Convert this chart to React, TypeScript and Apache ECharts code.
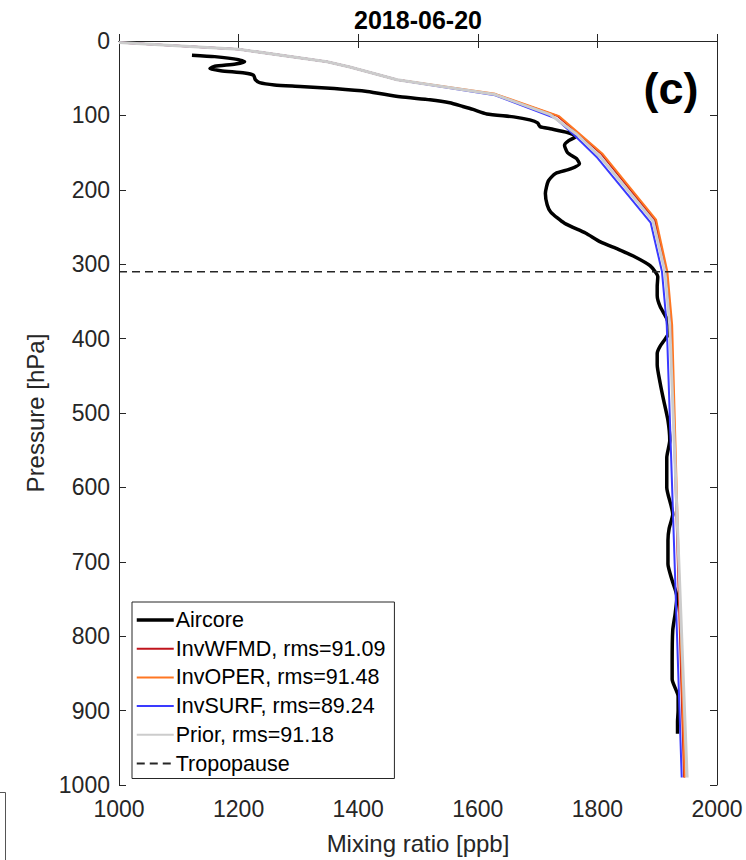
import React, { useEffect, useRef } from "react";
import * as echarts from "echarts";

// ---- Data (mixing ratio [ppb], pressure [hPa]) ----
const titleText = "2018-06-20";
const panelLabel = "(c)";
const xTicks = [1000, 1200, 1400, 1600, 1800, 2000];
const yTicks = [0, 100, 200, 300, 400, 500, 600, 700, 800, 900, 1000];
const tropopausePressure = 310;

const aircore: number[][] = [
  [1122, 19], [1160, 21], [1200, 25], [1210, 28], [1195, 31], [1160, 34], [1152, 37],
  [1170, 40], [1210, 43], [1225, 46], [1228, 52], [1235, 56], [1260, 59], [1303, 61],
  [1360, 64], [1415, 68], [1470, 75], [1520, 79], [1553, 83], [1575, 88], [1592, 92],
  [1615, 98], [1660, 102], [1687, 106], [1700, 110], [1704, 115], [1721, 118], [1750, 123],
  [1765, 128], [1752, 134], [1745, 140], [1750, 150], [1765, 158], [1770, 165], [1755, 172],
  [1730, 178], [1718, 188], [1713, 205], [1716, 220], [1722, 230], [1745, 245], [1780, 258],
  [1805, 270], [1835, 280], [1860, 289], [1888, 302], [1901, 317], [1900, 330], [1900, 342],
  [1905, 357], [1916, 373], [1920, 385], [1918, 395], [1905, 410], [1900, 420], [1900, 435],
  [1905, 460], [1910, 480], [1918, 510], [1921, 537], [1916, 560], [1916, 600], [1926, 636],
  [1920, 655], [1918, 671], [1918, 703], [1925, 725], [1933, 747], [1930, 770], [1926, 792],
  [1925, 836], [1925, 858], [1935, 881], [1935, 900], [1934, 915], [1934, 931],
];

const prior: number[][] = [
  [1000, 2], [1200, 11], [1348, 28], [1386, 35], [1465, 52], [1629, 72], [1721, 99],
  [1765, 125], [1804, 155], [1893, 242], [1913, 310], [1921, 382], [1950, 990],
];

const invWFMD: number[][] = [
  [1000, 2], [1200, 11], [1348, 28], [1386, 35], [1465, 52], [1629, 72], [1734, 101],
  [1767, 124], [1807, 152], [1896, 241], [1915, 310], [1923, 382], [1945, 990],
];

const invOPER: number[][] = [
  [1000, 2], [1200, 11], [1348, 28], [1386, 35], [1465, 52], [1629, 71], [1736, 101],
  [1769, 124], [1809, 152], [1898, 240], [1917, 310], [1925, 382], [1946, 990],
];

const invSURF: number[][] = [
  [1000, 2], [1200, 11], [1348, 28], [1386, 35], [1465, 52], [1629, 73], [1730, 104],
  [1762, 127], [1800, 157], [1889, 244], [1908, 310], [1916, 382], [1941, 990],
];

const names = [
  "Aircore",
  "InvWFMD, rms=91.09",
  "InvOPER, rms=91.48",
  "InvSURF, rms=89.24",
  "Prior, rms=91.18",
  "Tropopause",
];

const FONT = "'Liberation Sans', Arial, Helvetica, sans-serif";
const AXIS = "#262626";

export default function App() {
  const ref = useRef<HTMLDivElement>(null);

  useEffect(() => {
    if (!ref.current) return;
    const chart = echarts.init(ref.current, undefined, { renderer: "svg" });

    const xBase = {
      type: "value" as const,
      min: xTicks[0],
      max: xTicks[xTicks.length - 1],
      interval: 200,
      splitLine: { show: false },
      axisLine: { show: true, lineStyle: { color: AXIS, width: 1 } },
      axisTick: { show: true, inside: true, length: 7, lineStyle: { color: AXIS } },
    };
    const yBase = {
      type: "value" as const,
      min: yTicks[0],
      max: yTicks[yTicks.length - 1],
      interval: 100,
      inverse: true,
      splitLine: { show: false },
      axisLine: { show: true, lineStyle: { color: AXIS, width: 1 } },
      axisTick: { show: true, inside: true, length: 7, lineStyle: { color: AXIS } },
    };

    const lineSeries = (name: string, data: number[][], color: string, width: number, z: number, extra: any = {}) => ({
      name,
      type: "line",
      data,
      symbol: "none",
      showSymbol: false,
      z,
      lineStyle: { color, width, ...(extra.lineStyle || {}) },
      itemStyle: { color },
      smooth: extra.smooth ?? false,
      xAxisIndex: 0,
      yAxisIndex: 0,
    });

    chart.setOption({
      animation: false,
      backgroundColor: "#ffffff",
      textStyle: { fontFamily: FONT },
      grid: { left: 119, right: 29, top: 41, bottom: 71, containLabel: false },
      xAxis: [
        {
          ...xBase,
          position: "bottom",
          name: "Mixing ratio [ppb]",
          nameLocation: "middle",
          nameGap: 46,
          nameTextStyle: { fontSize: 24, color: AXIS, fontFamily: FONT },
          axisLabel: { fontSize: 23, color: AXIS, margin: 12, fontFamily: FONT, formatter: (v: number) => String(v) },
        },
        { ...xBase, position: "top", axisLabel: { show: false } },
      ],
      yAxis: [
        {
          ...yBase,
          position: "left",
          name: "Pressure [hPa]",
          nameLocation: "middle",
          nameGap: 54,
          nameRotate: 90,
          nameTextStyle: { fontSize: 24, color: AXIS, fontFamily: FONT },
          axisLabel: { fontSize: 23, color: AXIS, margin: 9, fontFamily: FONT, formatter: (v: number) => String(v) },
        },
        { ...yBase, position: "right", axisLabel: { show: false } },
      ],
      legend: {
        orient: "vertical",
        left: 132,
        top: 602,
        data: names.map((n, i) => (i === 0 ? { name: n, lineStyle: { width: 3.5 } } : { name: n })),
        itemWidth: 37,
        itemHeight: 14,
        itemGap: 6.7,
        padding: [7, 9, 4, 3],
        borderColor: AXIS,
        borderWidth: 1,
        borderRadius: 0,
        backgroundColor: "#ffffff",
        selectedMode: false,
        itemStyle: { opacity: 0 },
        textStyle: { fontSize: 21.5, color: "#000", fontFamily: FONT, lineHeight: 21, padding: [0, 0, 0, -3] },
      },
      graphic: [
        {
          type: "text",
          x: 418,
          y: 20,
          style: { text: titleText, fontSize: 25, fontWeight: "bold", fontFamily: FONT, fill: "#000", align: "center", verticalAlign: "middle" },
        },
        {
          type: "text",
          x: 671,
          y: 88,
          z: 10,
          style: { text: panelLabel, fontSize: 45, fontWeight: "bold", fontFamily: FONT, fill: "#000", align: "center", verticalAlign: "middle" },
        },
        { type: "line", shape: { x1: 0, y1: 792.5, x2: 5.5, y2: 792.5 }, style: { stroke: "#555", lineWidth: 1 } },
        { type: "line", shape: { x1: 5.5, y1: 792.5, x2: 5.5, y2: 860 }, style: { stroke: "#555", lineWidth: 1 } },
      ],
      series: [
        lineSeries(names[0], aircore, "#000000", 3.5, 2, { smooth: 0.2 }),
        lineSeries(names[1], invWFMD, "#c0141c", 2, 3),
        lineSeries(names[2], invOPER, "#ff7722", 2, 4),
        lineSeries(names[3], invSURF, "#3a3aff", 2, 5),
        lineSeries(names[4], prior, "#cccccc", 3, 6),
        lineSeries(
          names[5],
          [[xTicks[0], tropopausePressure], [xTicks[xTicks.length - 1], tropopausePressure]],
          "#262626",
          1.5,
          7,
          { lineStyle: { type: [8, 5] } }
        ),
      ],
    });

    return () => chart.dispose();
  }, []);

  return (
    <div
      ref={ref}
      style={{ position: "fixed", left: 0, top: 0, width: 746, height: 860, background: "#fff" }}
    />
  );
}
